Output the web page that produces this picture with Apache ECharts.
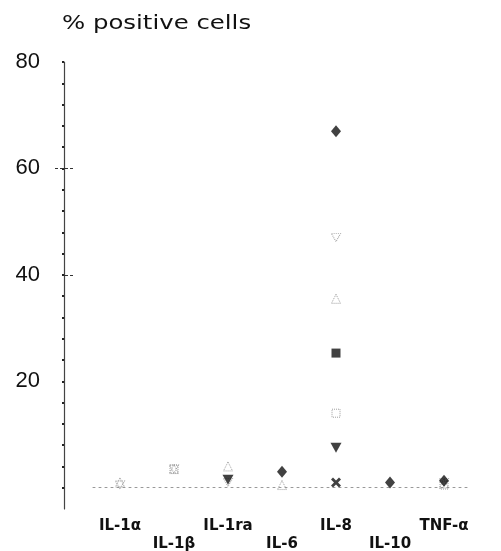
<!DOCTYPE html>
<html>
<head>
<meta charset="utf-8">
<script src="https://cdn.jsdelivr.net/npm/echarts@6/dist/echarts.min.js"></script>
<style>html,body{margin:0;padding:0;background:#fff}#c{width:501px;height:551px}</style>
</head>
<body>
<div id="c"></div>
<script>
var categories = ['IL-1α', 'IL-1β', 'IL-1ra', 'IL-6', 'IL-8', 'IL-10', 'TNF-α'];
var yLabelValues = [20, 40, 60, 80];
var yMinorTickValues = [0, 4, 8, 12, 16, 20, 24, 28, 32, 36, 40, 44, 48, 52, 56, 60, 64, 68, 72, 76, 80];
var donorDiamond = [null, null, null, 3, 67, 1, 1.3];
var donorOpenInvTri = [0.5, 3.5, 1, null, 47, null, 1];
var donorOpenTri = [1, 3.5, 4, 0.5, 35.5, null, 0.8];
var donorSquare = [null, null, null, null, 25.3, null, null];
var donorOpenSquare = [null, 3.5, null, null, 14, null, 0.5];
var donorInvTri = [null, null, 1.5, null, 7.5, null, null];
var donorCross = [null, null, null, null, 1, null, null];

var INV_TRI = 'path://M0,0L10,0L5,9Z';
var CROSS = 'path://M0,2L2,0L5,3L8,0L10,2L7,5L10,8L8,10L5,7L2,10L0,8L3,5Z';

function filled(name, data, symbol, size) {
  return { type: 'scatter', name: name, data: data, symbol: symbol, symbolSize: size,
    itemStyle: { color: '#111' }, z: 5 };
}
function open(name, data, symbol, size) {
  return { type: 'scatter', name: name, data: data, symbol: symbol, symbolSize: size,
    itemStyle: { color: 'rgba(255,255,255,0)', borderColor: '#888', borderWidth: 1, borderType: 'dotted' }, z: 4 };
}

var yBase = { type: 'value', min: -4, max: 80, position: 'left', offset: 29, splitLine: { show: false } };

var chart = echarts.init(document.getElementById('c'), null, { renderer: 'canvas' });
chart.setOption({
  animation: false,
  backgroundColor: '#fff',
  grid: { left: 93, right: 30, top: 62, bottom: 42, containLabel: false, outerBoundsMode: 'none' },
  graphic: [{
    type: 'text', left: 62, top: 14, scaleX: 1.22,
    style: { text: '% positive cells', font: '20px "DejaVu Sans"', fill: '#111' }
  }],
  xAxis: {
    type: 'category', data: categories, boundaryGap: true,
    axisLine: { onZero: true, onZeroAxisIndex: 0, lineStyle: { color: '#999', width: 1, type: [2, 4] } },
    axisTick: { alignWithLabel: true, length: 20, lineStyle: { color: '#333', width: 1 } },
    axisLabel: {
      interval: 0, margin: 8, lineHeight: 18, color: '#111',
      fontFamily: 'DejaVu Sans', fontSize: 15, fontWeight: 'bold',
      formatter: function (v, i) { return i % 2 === 1 ? '\n' + v : v; }
    },
    splitLine: { show: false }
  },
  yAxis: [
    Object.assign({}, yBase, {
      axisLine: { show: true, onZero: false, lineStyle: { color: '#444', width: 1.2 } },
      axisTick: { show: true, customValues: yMinorTickValues, length: 2, lineStyle: { color: '#222', width: 2 } },
      axisLabel: { customValues: yLabelValues, margin: 24, color: '#111', fontFamily: 'Liberation Sans', fontSize: 22 }
    }),
    Object.assign({}, yBase, {
      axisLine: { show: false },
      axisTick: { show: true, customValues: [60], length: 9, lineStyle: { color: '#333', width: 1, type: [4, 2] } },
      axisLabel: { show: false }
    }),
    Object.assign({}, yBase, {
      axisLine: { show: false },
      axisTick: { show: true, inside: true, customValues: [40, 60], length: 9, lineStyle: { color: '#333', width: 1, type: [4, 2] } },
      axisLabel: { show: false }
    })
  ],
  series: [
    filled('A', donorDiamond, 'diamond', [10, 12]),
    open('B', donorOpenInvTri, INV_TRI, [9, 8]),
    open('C', donorOpenTri, 'triangle', [9, 9]),
    filled('D', donorSquare, 'rect', [9, 9]),
    open('E', donorOpenSquare, 'rect', [8, 8]),
    filled('F', donorInvTri, INV_TRI, [11, 10]),
    filled('G', donorCross, CROSS, [10, 10])
  ]
});
</script>
</body>
</html>
